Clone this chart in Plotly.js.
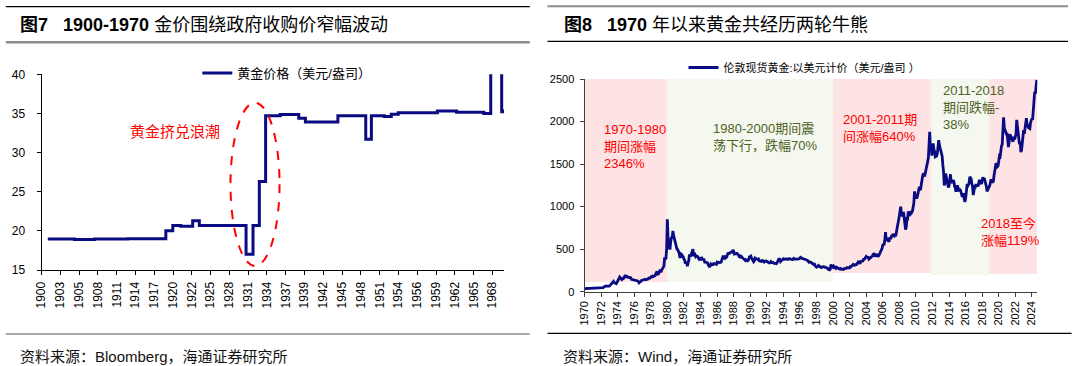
<!DOCTYPE html>
<html><head><meta charset="utf-8">
<script src="https://cdn.plot.ly/plotly-3.0.1.min.js"></script>
<style>html,body{margin:0;padding:0;background:#fff;}#chart{width:1080px;height:366px;}</style>
</head><body><div id="chart"></div>
<script>
// ---------- Left chart (Fig.7) data ----------
const leftYear  = [1900.95,1905,1908,1913,1918.75,1919.8,1921,1922.8,1923.8,1930.85,1931.9,1932.85,1933.8,1936,1938.8,1939.8,1944.7,1948.9,1949.75,1951.7,1952.75,1953.8,1959.7,1962.6,1966.7,1967.75,1968.5,1969.4,1969.75];
const leftPrice = [18.96,18.9,18.95,18.98,20.0,20.7,20.6,21.3,20.67,17.0,20.67,26.3,34.7,34.85,34.4,33.9,34.7,31.7,34.7,34.6,34.9,35.1,35.3,35.15,35.0,41.0,42.5,35.2,35.5];
const leftTickText = ['1900','1903','1905','1908','1911','1914','1917','1920','1922','1925','1928','1931','1934','1937','1939','1942','1945','1948','1951','1954','1956','1959','1962','1965','1968'];
const leftSeriesName = '黄金价格（美元/盎司）';

// ---------- Right chart (Fig.8) data: monthly London gold (USD/oz) ----------
const gold1970s = [
 35.0,35.4,35.3,35.9,36.0,35.4,35.3,35.4,36.2,37.5,37.4,37.4,
 37.9,38.7,38.9,39.0,40.5,40.1,41.0,42.7,42.0,42.5,42.9,43.5,
 46.0,48.3,48.3,49.0,54.6,62.1,65.7,67.0,65.5,64.9,62.9,63.9,
 65.1,74.2,84.4,90.5,102.0,120.1,120.2,106.8,103.0,100.1,94.8,106.7,
 129.0,150.2,168.4,172.2,163.3,154.1,143.0,154.6,151.8,158.8,181.7,195.0,
 176.0,179.6,178.6,169.9,167.4,164.2,165.2,163.1,144.6,142.8,142.8,139.3,
 131.5,130.6,132.5,128.3,128.1,125.7,117.7,105.0,114.0,116.0,130.5,133.9,
 132.3,136.4,148.3,148.9,146.9,140.9,143.3,144.1,149.5,158.9,162.1,160.4,
 173.2,178.2,183.7,175.1,176.3,183.1,188.2,206.1,212.3,240.0,206.0,207.8,
 227.3,245.7,242.1,239.2,257.3,279.1,294.7,300.8,390.0,391.7,392.5,512.0];
const gold1980s = [
 850,640,500,517,514,600,644,627,715,661,623,594,
 557,500,499,495,480,460,410,410,443,437,413,410,
 384,374,330,350,334,300,339,364,435,422,415,447,
 481,500,420,432,437,413,422,416,412,394,382,388,
 370,386,394,381,377,378,348,348,341,340,341,320,
 303,290,304,325,316,317,317,330,323,326,325,321,
 345,339,346,340,342,343,348,376,418,423,395,391,
 408,401,409,438,460,450,451,461,460,465,467,490,
 477,442,443,452,451,451,437,432,413,407,420,418,
 404,388,390,384,371,367,375,365,362,367,394,409];
const gold1990s = [
 410,417,393,374,369,352,362,395,389,381,381,378,
 383,363,363,358,357,367,368,356,349,358,360,361,
 354,354,344,338,337,341,353,343,345,344,335,334,
 329,329,330,342,367,372,392,378,355,364,374,383,
 387,382,384,378,381,386,385,380,391,389,384,379,
 379,376,382,391,385,387,386,383,383,383,386,387,
 400,405,396,393,392,385,383,387,383,381,378,369,
 355,347,352,344,344,341,324,324,323,325,306,289,
 289,297,296,308,299,292,293,284,289,296,294,291,
 287,287,286,282,277,262,256,257,265,320,293,283];
const gold2000s = [
 285,300,286,280,275,286,282,274,273,270,266,272,
 265,262,263,261,272,270,268,273,283,283,276,276,
 282,296,294,303,314,321,314,310,319,317,319,333,
 357,359,340,328,355,356,351,360,379,379,389,407,
 414,405,406,403,383,392,398,400,406,420,439,442,
 424,423,434,429,422,430,424,437,456,470,476,510,
 549,555,557,610,700,596,633,632,598,586,628,629,
 631,665,655,679,667,655,665,665,713,754,806,803,
 889,950,1000,909,888,890,939,839,830,730,760,860,
 858,943,924,890,928,946,934,949,996,1043,1180,1100];
const gold2010s = [
 1118,1095,1114,1149,1205,1232,1193,1215,1271,1343,1370,1391,
 1356,1372,1424,1474,1512,1529,1572,1760,1880,1665,1738,1600,
 1656,1742,1673,1650,1585,1596,1594,1626,1745,1780,1722,1684,
 1671,1627,1593,1487,1414,1250,1286,1390,1349,1316,1275,1225,
 1244,1300,1380,1299,1287,1279,1311,1296,1239,1222,1176,1201,
 1250,1227,1179,1198,1199,1181,1131,1117,1125,1159,1086,1055,
 1097,1199,1246,1242,1260,1276,1350,1341,1326,1266,1238,1135,
 1192,1234,1231,1266,1246,1260,1236,1283,1314,1279,1282,1265,
 1331,1345,1325,1335,1303,1282,1238,1180,1198,1215,1221,1250,
 1291,1320,1300,1285,1284,1359,1413,1500,1510,1495,1471,1480];
const gold2020s = [
 1560,1597,1591,1683,1715,1732,1847,2050,1922,1900,1866,1858,
 1867,1808,1700,1760,1850,1834,1807,1785,1775,1777,1821,1790,
 1817,1856,2020,1937,1848,1836,1732,1764,1640,1664,1726,1798,
 1898,1855,1912,1999,2040,1942,1951,1929,1916,1918,1985,2030,
 2034,2023,2158,2331,2348,2326,2398,2490];
const goldFirstYear = 1970;
const rightTickText = ['1970','1972','1974','1976','1978','1980','1982','1984','1986','1988','1990','1992','1994','1996','1998','2000','2002','2004','2006','2008','2010','2012','2014','2016','2018','2020','2022','2024'];
const rightSeriesName = '伦敦现货黄金:以美元计价（美元/盎司 ）';

// shaded periods
const periodStart  = [1970, 1980, 2000, 2011.8, 2018.8];
const periodEnd    = [1980, 2000, 2011.8, 2018.8, 2024.65];
const periodBottom = [110, 115, 216, 196, 208];
const periodTop    = [2555, 2555, 2586, 2637, 2645];
const periodLabel  = ['1970-1980<br>期间涨幅<br>2346%', '1980-2000期间震<br>荡下行，跌幅70%', '2001-2011期<br>间涨幅640%', '2011-2018<br>期间跌幅-<br>38%', '2018至今<br>涨幅119%'];
const periodLabelX = [1972.15, 1985.3, 2001.0, 2013.0, 2017.65];
const periodLabelY = [1710, 1815, 1924, 2169, 696];

// ---------- build ----------
const goldPrice = [].concat(gold1970s, gold1980s, gold1990s, gold2000s, gold2010s, gold2020s);
const goldYear = goldPrice.map((_, i) => goldFirstYear + i / 12);
const leftTickVals = leftTickText.map((_, i) => 1900 + i * 68 / (leftTickText.length - 1));
const rightTickVals = rightTickText.map(Number);

const PINK = '#fde3e3', GREEN = '#f4f8ee';
const RED = '#ff0000', OLIVE = '#4f6228';
const NAVY = '#0a0a82';

const px = x => x / 1080;
const py = y => 1 - y / 366;

const traces = [
  {
    type: 'scatter', mode: 'lines', x: leftYear, y: leftPrice,
    xaxis: 'x', yaxis: 'y', name: leftSeriesName, legend: 'legend',
    line: {color: NAVY, width: 3, shape: 'hv'}, hoverinfo: 'skip'
  },
  {
    type: 'bar', xaxis: 'x2', yaxis: 'y2', showlegend: false,
    x: periodStart.map((s, i) => (s + periodEnd[i]) / 2),
    width: periodStart.map((s, i) => periodEnd[i] - s),
    base: periodBottom,
    y: periodTop.map((t, i) => t - periodBottom[i]),
    marker: {color: [PINK, GREEN, PINK, GREEN, PINK], line: {width: 0}},
    cliponaxis: false, hoverinfo: 'skip'
  },
  {
    type: 'scatter', mode: 'lines', x: goldYear, y: goldPrice,
    xaxis: 'x2', yaxis: 'y2', name: rightSeriesName, legend: 'legend2',
    line: {color: NAVY, width: 2.8}, hoverinfo: 'skip'
  }
];

const FONT = 'Liberation Sans, Arial, Noto Sans CJK SC, sans-serif';
const CJK = 'Liberation Sans, Arial, Noto Sans CJK SC, sans-serif';

const annotations = [
  {xref:'paper', yref:'paper', x:px(17.8), y:py(25), xanchor:'left', yanchor:'middle', showarrow:false,
   text:'<b>图7</b>\u00a0\u00a0\u00a0<b>1900-1970</b> 金价围绕政府收购价窄幅波动', font:{size:18, color:'#000', family:CJK}},
  {xref:'paper', yref:'paper', x:px(562.3), y:py(25), xanchor:'left', yanchor:'middle', showarrow:false,
   text:'<b>图8</b>\u00a0\u00a0\u00a0<b>1970</b> 年以来黄金共经历两轮牛熊', font:{size:18, color:'#000', family:CJK}},
  {xref:'paper', yref:'paper', x:px(17.8), y:py(356), xanchor:'left', yanchor:'middle', showarrow:false,
   text:'资料来源：Bloomberg，海通证券研究所', font:{size:15, color:'#111', family:CJK}},
  {xref:'paper', yref:'paper', x:px(561.3), y:py(356), xanchor:'left', yanchor:'middle', showarrow:false,
   text:'资料来源：Wind，海通证券研究所', font:{size:15, color:'#111', family:CJK}},
  {xref:'x', yref:'y', x:1920.1, y:32.67, xanchor:'center', yanchor:'middle', showarrow:false,
   text:'黄金挤兑浪潮', font:{size:15, color:RED, family:CJK}}
];
periodLabel.forEach((t, i) => {
  annotations.push({xref:'x2', yref:'y2', x:periodLabelX[i], y:periodLabelY[i], xanchor:'left', yanchor:'middle',
    align:'left', showarrow:false, text:t, font:{size:13, color: (i % 2 === 0 ? RED : OLIVE), family:CJK}});
});

const shapes = [
  {type:'line', xref:'paper', yref:'paper', x0:px(5.8), x1:px(529.8), y0:py(6.7), y1:py(6.7), line:{color:'#000', width:1.2}},
  {type:'line', xref:'paper', yref:'paper', x0:px(5.8), x1:px(529.8), y0:py(42.3), y1:py(42.3), line:{color:'#8c8c8c', width:2.5}},
  {type:'line', xref:'paper', yref:'paper', x0:px(547.5), x1:px(1068), y0:py(6.3), y1:py(6.3), line:{color:'#8c8c8c', width:2}},
  {type:'line', xref:'paper', yref:'paper', x0:px(547.5), x1:px(1068), y0:py(41.3), y1:py(41.3), line:{color:'#000', width:1.2}},
  {type:'line', xref:'paper', yref:'paper', x0:px(5.8), x1:px(529.8), y0:py(334), y1:py(334), line:{color:'#555', width:1.2}},
  {type:'line', xref:'paper', yref:'paper', x0:px(547.5), x1:px(1071.5), y0:py(333.3), y1:py(333.3), line:{color:'#000', width:1.2}},
  {type:'circle', xref:'x', yref:'y', x0:1928.5, x1:1935.9, y0:15.52, y1:36.37, line:{color:RED, width:2, dash:'dash'}}
];

const axisCommon = {showgrid:false, zeroline:false, showline:true, ticks:'outside', ticklen:4, fixedrange:true};

const layout = {
  width:1080, height:366, autosize:false,
  margin:{l:0, r:0, t:0, b:0},
  paper_bgcolor:'#fff', plot_bgcolor:'rgba(0,0,0,0)',
  font:{family:FONT, color:'#000'},
  showlegend:true, bargap:0,
  xaxis: Object.assign({}, axisCommon, {
    domain:[px(41.5), px(504)], range:[1900, 1969.75], anchor:'y',
    tickmode:'array', tickvals:leftTickVals, ticktext:leftTickText, tickangle:-90,
    linecolor:'#000', tickcolor:'#000', tickfont:{size:12, color:'#000'}, ticklabelstandoff:2
  }),
  yaxis: Object.assign({}, axisCommon, {
    domain:[py(270), py(74.3)], range:[15, 40], dtick:5, anchor:'x',
    linecolor:'#000', tickcolor:'#000', tickfont:{size:12, color:'#000'}, ticklabelstandoff:9
  }),
  xaxis2: Object.assign({}, axisCommon, {
    domain:[px(584.5), px(1037.3)], range:[1970, 2024.65], anchor:'y2',
    tickmode:'array', tickvals:rightTickVals, ticktext:rightTickText, tickangle:-90,
    linecolor:'#404040', tickcolor:'#404040', tickfont:{size:11, color:'#000'}, ticklabelstandoff:0
  }),
  yaxis2: Object.assign({}, axisCommon, {
    domain:[py(291.7), py(79)], range:[0, 2500], dtick:500, anchor:'x2',
    linecolor:'#404040', tickcolor:'#404040', tickfont:{size:11, color:'#000'}, ticklabelstandoff:3
  }),
  legend: {x:px(197.3), y:py(58), xanchor:'left', yanchor:'top', bgcolor:'rgba(0,0,0,0)',
    font:{size:13, color:'#000', family:CJK}, borderwidth:0, itemwidth:30},
  legend2: {x:px(683.5), y:py(53), xanchor:'left', yanchor:'top', bgcolor:'rgba(0,0,0,0)',
    font:{size:11, color:'#000', family:CJK}, borderwidth:0, itemwidth:30},
  annotations: annotations,
  shapes: shapes
};

Plotly.newPlot('chart', traces, layout, {displayModeBar:false, staticPlot:true});
</script>
</body></html>
